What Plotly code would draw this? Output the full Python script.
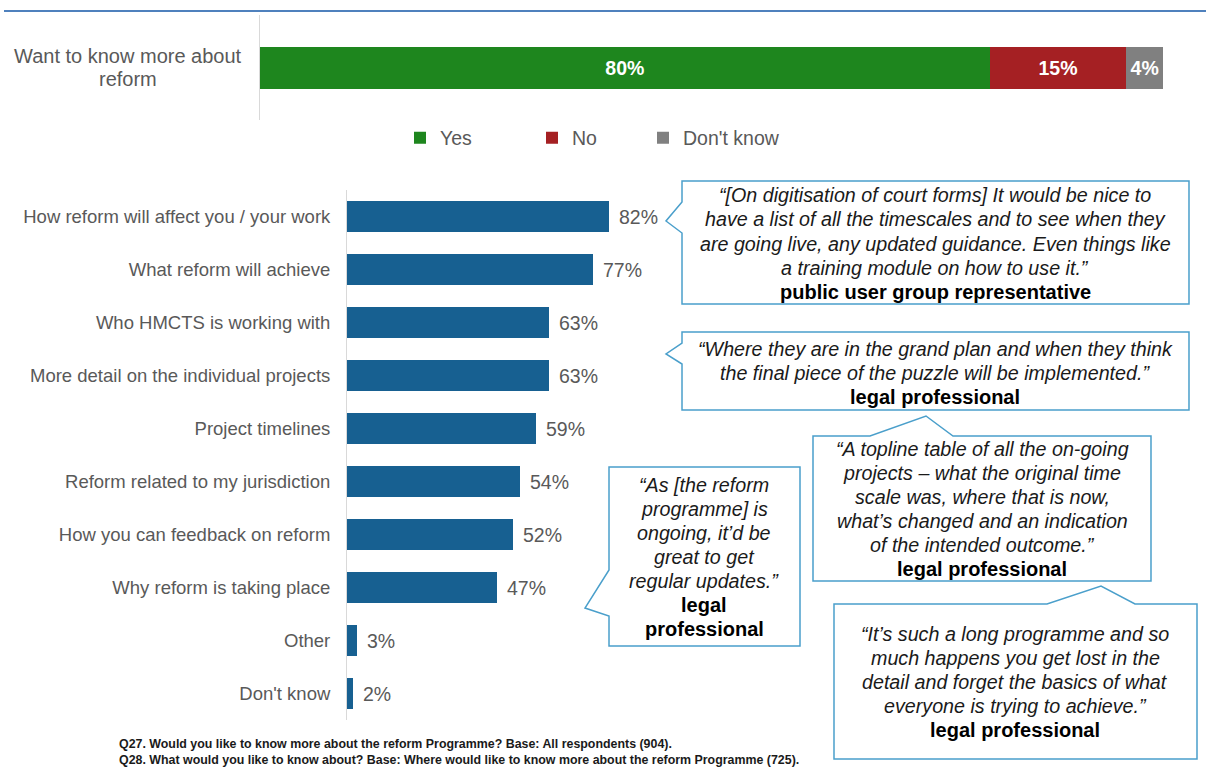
import plotly.graph_objects as go

W, H = 1206, 776
FONT = "Arial, 'Liberation Sans', sans-serif"
GREY_TEXT = "#595959"
DARK_TEXT = "#1A1A1A"
AXIS_GREY = "#D9D9D9"
CALLOUT_BLUE = "#4A9FCB"

# Q27: would respondents like to know more about reform
summary_label = "Want to know more about reform"
summary_names = ["Yes", "No", "Don't know"]
summary_values = [80, 15, 4]
summary_colors = ["#1E861E", "#A52023", "#808080"]

# Q28: what they would like to know about
topics = [
    "How reform will affect you / your work",
    "What reform will achieve",
    "Who HMCTS is working with",
    "More detail on the individual projects",
    "Project timelines",
    "Reform related to my jurisdiction",
    "How you can feedback on reform",
    "Why reform is taking place",
    "Other",
    "Don't know",
]
topic_values = [82, 77, 63, 63, 59, 54, 52, 47, 3, 2]
topic_color = "#176091"

footnotes = [
    "Q27. Would you like to know more about the reform Programme? Base: All respondents (904).",
    "Q28. What would you like to know about? Base: Where would like to know more about the reform Programme (725).",
]

# Verbatim quotes shown in speech-bubble callouts
quotes = [
    dict(lines=["“[On digitisation of court forms] It would be nice to",
                "have a list of all the timescales and to see when they",
                "are going live, any updated guidance. Even things like",
                "a training module on how to use it.”"],
         who=["public user group representative"]),
    dict(lines=["“Where they are in the grand plan and when they think",
                "the final piece of the puzzle will be implemented.”"],
         who=["legal professional"]),
    dict(lines=["“A topline table of all the on-going",
                "projects – what the original time",
                "scale was, where that is now,",
                "what’s changed and an indication",
                "of the intended outcome.”"],
         who=["legal professional"]),
    dict(lines=["“As [the reform",
                "programme] is",
                "ongoing, it’d be",
                "great to get",
                "regular updates.”"],
         who=["legal", "professional"]),
    dict(lines=["“It’s such a long programme and so",
                "much happens you get lost in the",
                "detail and forget the basics of what",
                "everyone is trying to achieve.”"],
         who=["legal professional"]),
]

# Bubble geometry in page pixels: box (left, top, right, bottom), pointer side,
# pointer base (two positions along that side), pointer tip, text centre/first line.
bubbles = [
    dict(box=(682, 181, 1189, 304), side="left", base=(202, 233), tip=(666, 221), cx=935, y0=195, step=24.3),
    dict(box=(682, 332, 1189, 410), side="left", base=(343, 364), tip=(666, 354), cx=935, y0=349, step=24),
    dict(box=(813, 436, 1151, 581), side="top", base=(870, 953), tip=(926, 416), cx=982, y0=449, step=24),
    dict(box=(609, 467, 800, 646), side="left", base=(570, 616), tip=(585, 608), cx=704, y0=485, step=24),
    dict(box=(834, 604, 1197, 759), side="top", base=(1047, 1135), tip=(1101, 586), cx=1015, y0=634, step=24),
]

# left edge (px) of each legend entry of the summary bar
legend_left = [400, 532, 643]


def px_x(x):
    return x / W


def px_y(y):
    return 1 - y / H


def bubble_path(b):
    left, top, right, bottom = b["box"]
    b0, b1 = b["base"]
    tip = b["tip"]
    if b["side"] == "left":
        pts = [(left, top), (right, top), (right, bottom), (left, bottom),
               (left, b1), tip, (left, b0)]
    else:
        pts = [(left, top), (b0, top), tip, (b1, top), (right, top),
               (right, bottom), (left, bottom)]
    coords = [f"{px_x(x):.5f},{px_y(y):.5f}" for x, y in pts]
    return "M" + " L".join(coords) + " Z"


fig = go.Figure()

legend_ids = ["legend", "legend2", "legend3"]

# Stacked single bar for Q27
for name, val, col, lg in zip(summary_names, summary_values, summary_colors, legend_ids):
    fig.add_trace(go.Bar(
        x=[val], y=[summary_label], orientation="h", name=name, legend=lg,
        marker=dict(color=col, line=dict(width=0)), width=0.4,
        text=[f"{val}%"], textposition="inside", insidetextanchor="middle",
        constraintext="none",
        textfont=dict(family=FONT, size=19.5, color="white", weight="bold"),
        xaxis="x", yaxis="y", hoverinfo="skip",
    ))

# Horizontal bars for Q28
fig.add_trace(go.Bar(
    x=topic_values, y=topics, orientation="h", showlegend=False,
    marker=dict(color=topic_color, line=dict(width=0)),
    xaxis="x2", yaxis="y2", hoverinfo="skip",
))

annotations = []

# value labels beside each topic bar
for t, v in zip(topics, topic_values):
    annotations.append(dict(
        x=v, y=t, xref="x2", yref="y2", text=f"{v}%", showarrow=False,
        xanchor="left", yanchor="middle", xshift=8,
        font=dict(family=FONT, size=19.5, color=GREY_TEXT),
    ))

# label of the summary bar (two centred lines)
for i, line in enumerate(["Want to know more about", "reform"]):
    annotations.append(dict(
        x=px_x(128), y=px_y(56 + 23 * i), xref="paper", yref="paper",
        text=line, showarrow=False, xanchor="center", yanchor="middle",
        font=dict(family=FONT, size=20, color=GREY_TEXT),
    ))

# quote text
for q, b in zip(quotes, bubbles):
    rows = [(l, False) for l in q["lines"]] + [(w, True) for w in q["who"]]
    for i, (txt, bold) in enumerate(rows):
        annotations.append(dict(
            x=px_x(b["cx"]), y=px_y(b["y0"] + b["step"] * i),
            xref="paper", yref="paper", showarrow=False,
            xanchor="center", yanchor="middle",
            text=f"<b>{txt}</b>" if bold else f"<i>{txt}</i>",
            font=dict(family=FONT, size=20 if bold else 19.7,
                      color="#000000" if bold else DARK_TEXT),
        ))

# footnotes
for i, note in enumerate(footnotes):
    annotations.append(dict(
        x=px_x(117), y=px_y(744 + 16 * i), xref="paper", yref="paper",
        text=f"<b>{note}</b>", showarrow=False, xanchor="left", yanchor="middle",
        font=dict(family=FONT, size=12.4, color=DARK_TEXT),
    ))

shapes = [
    # header rule
    dict(type="line", xref="paper", yref="paper",
         x0=px_x(4), x1=1, y0=px_y(11), y1=px_y(11),
         line=dict(color="#4F81BD", width=2)),
]
for b in bubbles:
    shapes.append(dict(type="path", xref="paper", yref="paper", path=bubble_path(b),
                       fillcolor="white", line=dict(color=CALLOUT_BLUE, width=1.5),
                       layer="above"))

legend_style = dict(orientation="h", y=px_y(138), xanchor="left", yanchor="middle",
                    font=dict(family=FONT, size=19.5, color=GREY_TEXT),
                    bgcolor="rgba(0,0,0,0)", itemwidth=30,
                    itemclick=False, itemdoubleclick=False)

fig.update_layout(
    width=W, height=H,
    margin=dict(l=0, r=0, t=0, b=0),
    paper_bgcolor="white", plot_bgcolor="white",
    barmode="stack", bargap=0.415,
    font=dict(family=FONT, color=GREY_TEXT),
    xaxis=dict(domain=[px_x(260), px_x(1172)], range=[0, 100], visible=False,
               anchor="y", fixedrange=True),
    yaxis=dict(domain=[px_y(120), px_y(15)], anchor="x", showticklabels=False,
               showline=True, linecolor=AXIS_GREY, linewidth=1, ticks="",
               showgrid=False, zeroline=False, fixedrange=True),
    xaxis2=dict(domain=[px_x(347), px_x(667)], range=[0, 100], visible=False,
                anchor="y2", fixedrange=True),
    yaxis2=dict(domain=[px_y(720), px_y(190)], anchor="x2", autorange="reversed",
                showline=True, linecolor=AXIS_GREY, linewidth=1, ticks="",
                ticklabelstandoff=12, showgrid=False, zeroline=False,
                tickfont=dict(family=FONT, size=18.5, color=GREY_TEXT),
                fixedrange=True),
    legend=dict(x=px_x(legend_left[0]), **legend_style),
    legend2=dict(x=px_x(legend_left[1]), **legend_style),
    legend3=dict(x=px_x(legend_left[2]), **legend_style),
    annotations=annotations,
    shapes=shapes,
    showlegend=True,
)

fig.write_html("out.html", config=dict(displayModeBar=False))
